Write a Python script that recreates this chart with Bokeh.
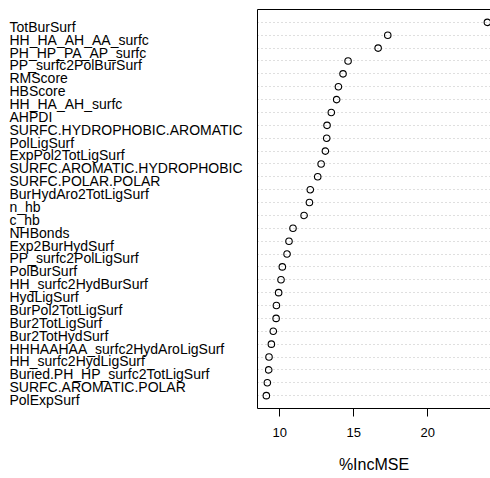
from bokeh.plotting import figure
from bokeh.layouts import row
from bokeh.models import Range1d, FixedTicker, LinearAxis, ColumnDataSource
from bokeh.core.properties import value
from bokeh.embed import file_html
from bokeh.resources import INLINE

# Variable importance (%IncMSE), most important first
features = [
    "TotBurSurf", "HH_HA_AH_AA_surfc", "PH_HP_PA_AP_surfc", "PP_surfc2PolBurSurf",
    "RMScore", "HBScore", "HH_HA_AH_surfc", "AHPDI", "SURFC.HYDROPHOBIC.AROMATIC",
    "PolLigSurf", "ExpPol2TotLigSurf", "SURFC.AROMATIC.HYDROPHOBIC", "SURFC.POLAR.POLAR",
    "BurHydAro2TotLigSurf", "n_hb", "c_hb", "NHBonds", "Exp2BurHydSurf",
    "PP_surfc2PolLigSurf", "PolBurSurf", "HH_surfc2HydBurSurf", "HydLigSurf",
    "BurPol2TotLigSurf", "Bur2TotLigSurf", "Bur2TotHydSurf",
    "HHHAAHAA_surfc2HydAroLigSurf", "HH_surfc2HydLigSurf",
    "Buried.PH_HP_surfc2TotLigSurf", "SURFC.AROMATIC.POLAR", "PolExpSurf",
]
inc_mse = [
    24.03, 17.30, 16.65, 14.62, 14.28, 13.97, 13.85, 13.49, 13.20, 13.18,
    13.09, 12.80, 12.57, 12.07, 12.01, 11.65, 10.90, 10.63, 10.50, 10.18,
    10.09, 9.93, 9.78, 9.76, 9.57, 9.44, 9.28, 9.26, 9.17, 9.10,
]
x_ticks = [10, 15, 20]
x_title = "%IncMSE"

n = len(features)
rows = list(range(n, 0, -1))  # top row first
src = ColumnDataSource(dict(label=features, val=inc_mse, pos=rows))

FONT = "Liberation Sans"
H = 478
TOP, BOTTOM = 9, 70
LEFT_W = 247

# label panel
lab = figure(width=LEFT_W, height=H, output_backend="svg", toolbar_location=None,
             x_range=Range1d(0, LEFT_W), y_range=Range1d(0, n + 1),
             min_border_left=0, min_border_right=0,
             min_border_top=TOP, min_border_bottom=BOTTOM,
             outline_line_color=None)
lab.xaxis.visible = False
lab.yaxis.visible = False
lab.grid.visible = False
lab.text(x=9, y="pos", text="label", source=src, text_align="left",
         text_baseline="alphabetic", y_offset=4.4,
         text_font=value(FONT), text_font_size="14px", text_color="black")

# dot chart
span = max(inc_mse) - min(inc_mse)
x_lo = min(inc_mse) - 0.04 * span
p = figure(width=490 - LEFT_W, height=H, output_backend="svg", toolbar_location=None,
           x_range=Range1d(x_lo, 24.24), y_range=Range1d(0, n + 1),
           min_border_left=257 - LEFT_W, min_border_right=0,
           min_border_top=TOP, min_border_bottom=BOTTOM,
           outline_line_color=None, x_axis_location="below", y_axis_location="left")

p.xgrid.visible = False
p.ygrid.ticker = FixedTicker(ticks=rows)
p.ygrid.grid_line_color = "#BEBEBE"
p.ygrid.grid_line_dash = "1 3"
p.ygrid.grid_line_width = 1

p.xaxis.ticker = FixedTicker(ticks=x_ticks)
p.xaxis.major_tick_out = 8
p.xaxis.major_tick_in = 0
p.xaxis.minor_tick_line_color = None
p.xaxis.major_label_standoff = 11
p.xaxis.major_label_text_font = FONT
p.xaxis.major_label_text_font_size = "13px"
p.xaxis.major_label_text_color = "black"
p.xaxis.axis_line_color = "black"
p.xaxis.major_tick_line_color = "black"
p.xaxis.axis_label = x_title
p.xaxis.axis_label_text_font = FONT
p.xaxis.axis_label_text_font_size = "16px"
p.xaxis.axis_label_text_font_style = "normal"
p.xaxis.axis_label_text_color = "black"
p.xaxis.axis_label_standoff = 16

# left and top box edges
p.yaxis.ticker = FixedTicker(ticks=[])
p.yaxis.major_tick_out = 0
p.yaxis.minor_tick_line_color = None
p.yaxis.major_label_text_font_size = "0px"
p.yaxis.axis_line_color = "black"

top_axis = LinearAxis(ticker=FixedTicker(ticks=[]), major_tick_out=0,
                      minor_tick_line_color=None, major_label_text_font_size="0px",
                      axis_line_color="black")
p.add_layout(top_axis, "above")

p.scatter(x="val", y="pos", source=src, marker="circle", size=6.5,
          fill_color=None, line_color="black", line_width=1.1)

layout = row(lab, p)
open("out.html", "w").write(file_html(layout, INLINE))
